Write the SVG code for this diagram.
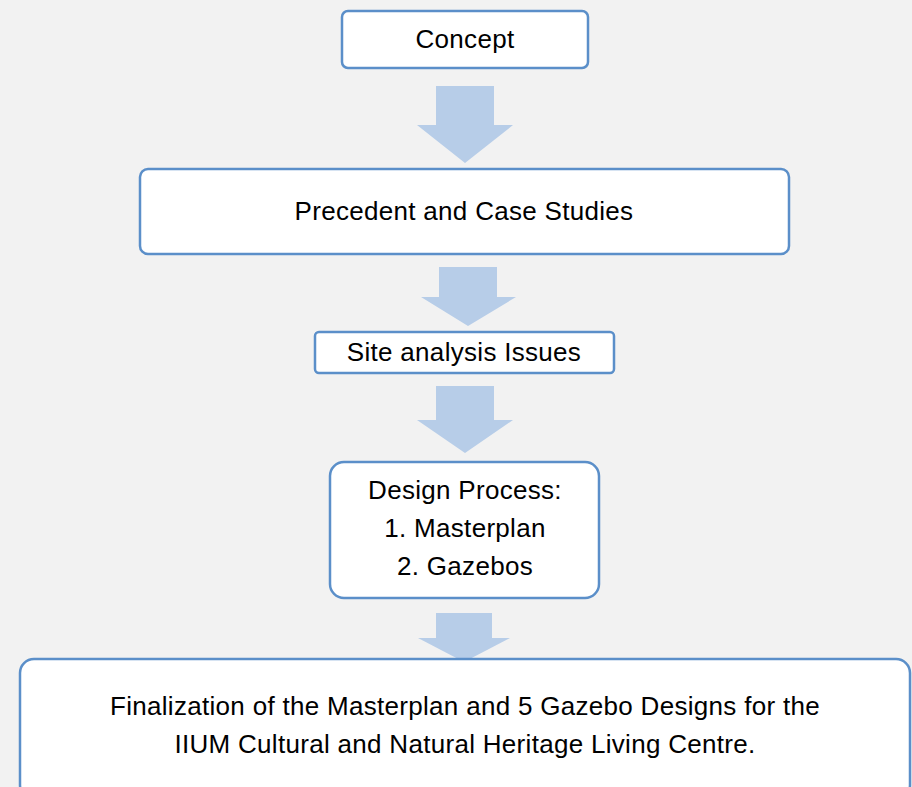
<svg xmlns="http://www.w3.org/2000/svg" width="912" height="787" viewBox="0 0 912 787">
<style>
.box{fill:#ffffff;stroke:#5b8fc9;stroke-width:2.5}
.arr{fill:#b7cde8}
text{font-family:"Liberation Sans",Arial,sans-serif;font-size:26px;letter-spacing:0.3px;fill:#000;text-anchor:middle}
</style>
<rect x="0" y="0" width="912" height="787" fill="#f2f2f2"/>
<g id="connectors">
<polygon class="arr" points="436,86 494,86 494,125 513,125 465,163 417,125 436,125"/>
<polygon class="arr" points="439,267 497,267 497,297 516,297 468,326 421,297 439,297"/>
<polygon class="arr" points="436,386 494,386 494,420 513,420 465,453 417,420 436,420"/>
<polygon class="arr" points="436,613 492,613 492,638 510,638 464,662 418,638 436,638"/>
</g>
<g id="concept">
<rect class="box" x="342" y="11" width="246" height="57" rx="6"/>
<text x="465" y="48">Concept</text>
</g>
<g id="precedent">
<rect class="box" x="140" y="169" width="649" height="85" rx="8"/>
<text x="464" y="220">Precedent and Case Studies</text>
</g>
<g id="site">
<rect class="box" x="315" y="332" width="299" height="41" rx="4"/>
<text x="464" y="361">Site analysis Issues</text>
</g>
<g id="design">
<rect class="box" x="330" y="462" width="269" height="136" rx="14"/>
<text x="465" y="499">Design Process:</text>
<text x="465" y="537">1. Masterplan</text>
<text x="465" y="575">2. Gazebos</text>
</g>
<g id="final">
<rect class="box" x="20" y="659" width="890" height="140" rx="14"/>
<text x="465" y="715">Finalization of the Masterplan and 5 Gazebo Designs for the</text>
<text x="465" y="753">IIUM Cultural and Natural Heritage Living Centre.</text>
</g>
</svg>
